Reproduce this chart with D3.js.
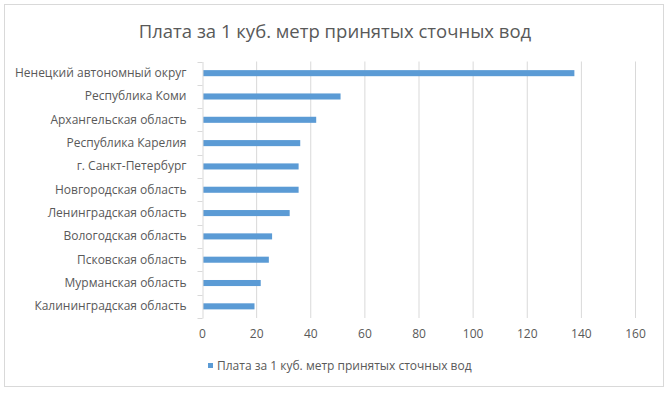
<!DOCTYPE html>
<html>
<head>
<meta charset="utf-8">
<script src="https://cdn.jsdelivr.net/npm/d3@7"></script>
<style>
  body { margin: 0; background: white; }
  svg text { font-family: "Open Sans", sans-serif; fill: #595959; }
</style>
</head>
<body>
<div id="chart"></div>
<script>
// Data
const regions = [
  'Ненецкий автономный округ',
  'Республика Коми',
  'Архангельская область',
  'Республика Карелия',
  'г. Санкт-Петербург',
  'Новгородская область',
  'Ленинградская область',
  'Вологодская область',
  'Псковская область',
  'Мурманская область',
  'Калининградская область'
];
const fees = [137.6, 51.2, 42.2, 36.3, 35.7, 35.7, 32.4, 25.9, 24.7, 21.7, 19.4];
const xTicks = [0, 20, 40, 60, 80, 100, 120, 140, 160];
const title = 'Плата за 1 куб. метр принятых сточных вод';

const width = 670, height = 395;
const margin = { top: 61.5, right: 35, bottom: 77, left: 202 };
const barColor = '#5b9bd5';

const svg = d3.select('#chart').append('svg')
    .attr('width', width)
    .attr('height', height);

// Outer frame
svg.append('rect')
    .attr('x', 4.5).attr('y', 4.5)
    .attr('width', 659).attr('height', 382)
    .attr('fill', 'white')
    .attr('stroke', '#d9d9d9');

// Scales
const xScale = d3.scaleLinear()
    .domain([0, 160])
    .range([margin.left, width - margin.right]);

const yScale = d3.scaleBand()
    .domain(regions)
    .range([margin.top, height - margin.bottom])
    .paddingInner(0.74)
    .paddingOuter(0.37);

const yBand = d3.scaleBand()
    .domain(regions)
    .range([margin.top, height - margin.bottom]);

// Gridlines
svg.append('g')
    .selectAll('line')
    .data(xTicks.slice(1))
    .enter().append('line')
        .attr('x1', d => xScale(d) + 0.5)
        .attr('x2', d => xScale(d) + 0.5)
        .attr('y1', margin.top)
        .attr('y2', height - margin.bottom)
        .attr('stroke', '#d9d9d9');

// Bars
svg.append('g')
    .selectAll('rect')
    .data(fees)
    .enter().append('rect')
        .attr('x', xScale(0) + 1)
        .attr('y', (d, i) => yScale(regions[i]))
        .attr('width', d => xScale(d) - xScale(0) - 1)
        .attr('height', yScale.bandwidth())
        .attr('fill', barColor);

// Vertical category axis
svg.append('g')
    .attr('transform', `translate(${margin.left + 0.5},0)`)
    .call(d3.axisLeft(yBand).tickSize(0).tickPadding(16))
    .call(g => g.select('.domain').attr('stroke', '#d9d9d9'))
    .call(g => g.selectAll('text').attr('font-size', '12px').attr('fill', '#595959'));

// Small tick marks at band boundaries
const edges = regions.map(r => yBand(r)).concat([height - margin.bottom]);
svg.append('g')
    .selectAll('line')
    .data(edges)
    .enter().append('line')
        .attr('x1', margin.left - 4.5)
        .attr('x2', margin.left + 0.5)
        .attr('y1', d => Math.round(d) + 0.5)
        .attr('y2', d => Math.round(d) + 0.5)
        .attr('stroke', '#d9d9d9');

// Horizontal value axis
svg.append('g')
    .attr('transform', `translate(0, ${height - margin.bottom})`)
    .call(d3.axisBottom(xScale).tickValues(xTicks).tickSize(0).tickPadding(11))
    .call(g => g.select('.domain').remove())
    .call(g => g.selectAll('text').attr('font-size', '12px').attr('fill', '#595959'));

// Title
svg.append('text')
    .attr('x', 335)
    .attr('y', 38)
    .attr('text-anchor', 'middle')
    .attr('font-size', '18.5px')
    .text(title);

// Legend
const legend = svg.append('g').attr('transform', 'translate(208, 366)');
legend.append('rect')
    .attr('x', 0).attr('y', -3)
    .attr('width', 5).attr('height', 5)
    .attr('fill', barColor);
legend.append('text')
    .attr('x', 9)
    .attr('y', 0)
    .attr('dy', '0.35em')
    .attr('font-size', '12px')
    .text(title);
</script>
</body>
</html>
